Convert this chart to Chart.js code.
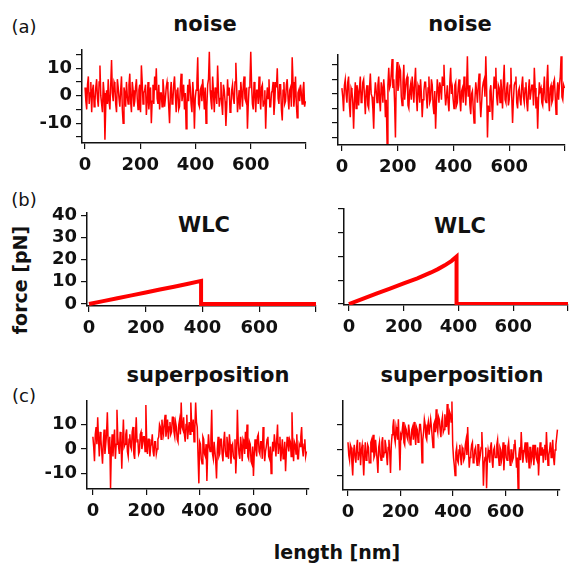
<!DOCTYPE html>
<html>
<head>
<meta charset="utf-8">
<script src="https://cdn.jsdelivr.net/npm/chart.js@4/dist/chart.umd.min.js"></script>
<style>
  html, body { margin: 0; padding: 0; background: #fff; overflow: hidden; }
  #figure { position: relative; width: 571px; height: 566px; overflow: hidden; font-family: "DejaVu Sans", sans-serif; }
  #figure canvas { position: absolute; }
  .label { position: absolute; transform: translate(-50%, -50%); white-space: nowrap; color: #111; }
  .title { font-weight: bold; font-size: 21px; }
  .tag { font-size: 18px; }
  .axis-title { font-weight: bold; font-size: 19px; }
</style>
</head>
<body>
<div id="figure">
  <div class="label tag" style="left:24px;top:26px">(a)</div>
  <div class="label tag" style="left:24px;top:199px">(b)</div>
  <div class="label tag" style="left:24px;top:395px">(c)</div>
  <div class="label title" style="left:205px;top:24px">noise</div>
  <div class="label title" style="left:460px;top:24px">noise</div>
  <div class="label title" style="left:204px;top:225px">WLC</div>
  <div class="label title" style="left:460px;top:226px">WLC</div>
  <div class="label title" style="left:208px;top:375px">superposition</div>
  <div class="label title" style="left:462px;top:375px">superposition</div>
  <div class="label axis-title" style="left:20px;top:280px;transform:translate(-50%,-50%) rotate(-90deg)">force [pN]</div>
  <div class="label axis-title" style="left:337px;top:552px">length [nm]</div>
</div>
<script>
// Sample positions along the molecule (nm), one row per 60 nm
const lengthNm = [
  0, 3, 6, 9, 12, 15, 18, 21, 24, 27, 30, 33, 36, 39, 42, 45, 48, 51, 54, 57,
  60, 63, 66, 69, 72, 75, 78, 81, 84, 87, 90, 93, 96, 99, 102, 105, 108, 111, 114, 117,
  120, 123, 126, 129, 132, 135, 138, 141, 144, 147, 150, 153, 156, 159, 162, 165, 168, 171, 174, 177,
  180, 183, 186, 189, 192, 195, 198, 201, 204, 207, 210, 213, 216, 219, 222, 225, 228, 231, 234, 237,
  240, 243, 246, 249, 252, 255, 258, 261, 264, 267, 270, 273, 276, 279, 282, 285, 288, 291, 294, 297,
  300, 303, 306, 309, 312, 315, 318, 321, 324, 327, 330, 333, 336, 339, 342, 345, 348, 351, 354, 357,
  360, 363, 366, 369, 372, 375, 378, 381, 384, 387, 390, 393, 396, 399, 402, 405, 408, 411, 414, 417,
  420, 423, 426, 429, 432, 435, 438, 441, 444, 447, 450, 453, 456, 459, 462, 465, 468, 471, 474, 477,
  480, 483, 486, 489, 492, 495, 498, 501, 504, 507, 510, 513, 516, 519, 522, 525, 528, 531, 534, 537,
  540, 543, 546, 549, 552, 555, 558, 561, 564, 567, 570, 573, 576, 579, 582, 585, 588, 591, 594, 597,
  600, 603, 606, 609, 612, 615, 618, 621, 624, 627, 630, 633, 636, 639, 642, 645, 648, 651, 654, 657,
  660, 663, 666, 669, 672, 675, 678, 681, 684, 687, 690, 693, 696, 699, 702, 705, 708, 711, 714, 717,
  720, 723, 726, 729, 732, 735, 738, 741, 744, 747, 750, 753, 756, 759, 762, 765, 768, 771, 774, 777,
  780, 783, 786, 789, 792, 795, 798
];

// (a) noise traces (pN)
const noiseLeft = [
  3, -2, -5, 4, 7, -3, 1, 5, -6, 2, 4, -4, -2, 3, 6, -1, -4, 5, 11, 0,
  -3, -6, 5, 1, -16, -4, 2, -3, 6, -2, -5, 4, 13, 1, -2, 5, 4, -3, -6, 6,
  3, -1, -4, 2, 7, -5, -10, 3, 1, -4, 5, 0, -3, 4, 8, -2, -6, 5, 2, -4,
  -2, 3, 6, -1, -5, 2, 4, -6, 11, 5, -3, 1, 2, 4, -7, -2, 5, -5, -1, 3,
  -10, -2, 4, -3, 7, 2, 10, -1, -3, 4, -5, 1, 1, -4, 6, 2, -4, -1, 3, 5,
  2, -4, -10, 1, 5, -3, -2, 4, 7, 0, -6, 2, 3, -5, -4, 3, 8, -2, 1, 4,
  -5, 1, -12, -3, 4, -2, 6, 3, -3, -6, 5, 0, -12, -1, 2, 5, 14, -3, -4, 2,
  3, -2, 6, 1, -5, 3, -10, -4, 4, 6, 16, 2, -2, -5, 7, 1, -6, 3, 1, -3,
  11, 2, -4, -1, 5, -3, -7, 4, 2, -2, -11, -4, 6, 0, 3, -6, -5, 2, 4, -1,
  -3, 5, 12, 3, -6, -2, 2, -5, 5, 1, -4, 4, 7, -1, -2, 3, -12, -3, 3, 5,
  16, 4, -3, -5, 5, 1, -6, 2, 2, -3, 7, 0, -5, 3, 4, -4, -2, 2, -12, -2,
  3, -1, 6, -4, -4, 1, 2, 5, -7, -2, 5, 3, 10, -1, -3, 4, 4, -5, -9, 2,
  5, -3, -2, 4, 6, -1, -5, 2, 3, -4, 14, 5, -4, 0, 7, -3, -8, 1, 2, -2,
  4, 1, -3, 2, 5, -4, -2
];
const noiseRight = [
  2, -1, -6, 3, 5, 0, -3, 4, 6, -4, -8, 2, 1, -3, -12, -2, 4, -5, 3, 1,
  -4, 2, 6, -3, -2, 4, 5, -1, -7, 1, 3, -4, -5, 2, 7, 0, -1, -5, -12, -1,
  4, 1, -3, 3, 6, -2, -6, 4, 2, -3, 5, 1, -8, -2, -17, 3, 9, 2, 3, 7,
  12, 2, 5, -3, -15, 6, 11, 1, 3, 9, 8, -1, -4, 4, 10, -2, 2, 5, 6, -4,
  -5, 1, 3, -2, 6, 2, -3, 4, 9, -1, -6, 3, 2, -3, 5, 0, -8, -2, 1, 4,
  4, -1, -5, 2, 6, -3, -2, 5, 3, -4, -7, 1, -12, -3, 5, 2, -3, 4, 2, -2,
  6, 3, 10, 1, -4, -1, 3, -3, -6, 4, 9, 0, 2, -2, -5, 3, 4, -4, -3, 2,
  5, -2, -6, 1, 2, -3, 6, 3, -4, 2, 13, -1, 3, -4, -7, 0, 1, -5, -10, -2,
  4, 1, -3, 3, 7, -2, -8, -3, 2, 4, 5, -1, 13, 2, -15, -4, -6, 1, 3, -3,
  -9, 0, 6, 2, 9, -1, -4, 3, 2, -3, 5, 1, -5, 4, 10, -2, -3, 2, 4, -4,
  -2, 3, 9, -1, -10, -2, 3, 4, 6, -3, -5, 1, 2, -2, -4, 3, 6, -1, -3, 2,
  4, -3, -6, 1, 5, -2, -2, 3, 3, -4, 9, 2, -5, -1, -12, -2, 4, 1, 2, -3,
  -4, 1, 6, -2, -3, 4, 10, -1, -6, 2, 3, -3, -2, 4, 5, -1, -7, 0, 4, -2,
  3, 6, 13, -1, -2, 3, 2
];

// (b) worm-like-chain curves
const wlcLeftX = [0, 50, 100, 150, 200, 250, 300, 350, 395, 395, 800];
const wlcLeftY = [0, 1.3, 2.6, 3.9, 5.2, 6.5, 7.8, 9.1, 10.4, 0, 0];
const wlcRightX = [0, 50, 100, 150, 200, 250, 300, 325, 350, 375, 393, 393, 800];
const wlcRightY = [0, 2.2, 4.4, 6.5, 8.7, 10.8, 13.3, 14.7, 16.3, 18.2, 20, 0, 0];

// (c) superposition traces
const superLeft = [
  5, 1, -5, 6, 9, 2, 13, 4, -3, 7, 4, -1, -6, 3, 8, -2, 2, 6, 15, 3,
  -2, 5, -16, 0, 6, -3, 3, 8, -4, 2, 16, 5, 1, -2, 7, 4, -8, 3, 12, 1,
  2, 6, 8, -1, -3, 4, 6, 1, 0, 7, 9, -2, -4, 5, 13, 3, 4, -2, -1, 6,
  7, 0, 2, 5, 5, -1, 18, 3, -2, 4, 4, -3, 1, 2, 6, -1, -3, 3, 3, -2,
  0, 4, 5, 10, 9, 4, 12, 8, 6, 11, 14, 5, 8, 12, 4, 9, 11, 6, 7, 13,
  13, 7, 5, 11, 9, 4, 3, 10, 12, 6, 19, 9, 8, 13, 6, 3, 10, 14, 4, 8,
  11, 6, 19, 10, 7, 12, 3, 8, 19, 11, 9, -3, -14, 3, 2, -4, -6, 5, 4, -2,
  -3, 2, -13, -1, 6, 1, -1, 4, 16, -2, -4, 3, 3, -5, -12, 0, 5, -3, -2, 4,
  4, -2, -5, 3, 7, -1, -3, 5, 1, -4, 6, 2, -6, 1, 2, -3, -4, 4, -10, -2,
  16, 3, -2, -4, 5, 1, -5, 4, 3, -2, 7, 0, 10, -3, -4, 3, 2, -5, -6, 1,
  -11, -2, 4, 0, -3, 5, 6, -1, -2, 3, 3, -4, 9, 2, -5, -1, 1, 4, 5, -3,
  -4, 1, -10, -3, 3, -1, 6, 2, -3, 4, 10, -2, 2, 5, -5, -1, 4, -4, -2, 3,
  -9, -1, 5, 2, -1, 4, 3, -3, 15, 1, -5, 3, 2, -2, 6, -4, -4, 2, 1, 5,
  9, 0, -3, 2, 4, -3, -1
];
const superRight = [
  3, -2, -4, 2, 1, -5, -10, -1, 2, -3, -5, 1, 4, -4, -1, 3, -6, 0, 2, -3,
  -10, -2, 3, -4, -3, 2, 1, -5, -5, 3, 4, -1, 6, -3, -2, 4, 0, -4, -9, 1,
  3, -2, -4, 3, 5, -3, -1, 4, 2, -2, -6, 1, 4, -1, -9, 2, 6, 9, 12, 5,
  3, 9, 7, 4, 12, 2, -8, 6, 5, 8, 11, 3, 2, 9, 8, 5, 4, 10, 7, 2,
  3, 8, 9, 4, 11, 6, 2, 9, 8, 3, 5, 10, 10, 6, -5, 4, 7, 12, 10, 5,
  4, 9, 11, 6, 6, 12, 9, 5, 1, 10, 11, 7, 16, 9, 7, 13, 12, 8, 5, 11,
  13, 7, 8, 14, 11, 9, 18, 10, 6, 15, 14, 11, 19, 2, -3, -6, -10, -1, 1, -4,
  -5, 0, 2, -3, -6, 1, 0, -4, -3, 2, 4, -2, 9, 0, -7, -3, -1, 2, 3, -5,
  -4, 0, 1, -3, -6, 2, 2, -4, -2, 1, 7, -1, -14, -5, -3, 1, -15, -4, 0, -2,
  -5, 1, 3, -4, -7, 0, 1, -3, -3, 2, 4, -2, -6, 1, 0, -4, -2, 3, -8, -1,
  2, -3, -4, 1, 3, -2, -6, 0, 0, -4, -3, 2, 4, -1, -7, -3, -15, -2, 1, -4,
  7, 0, -5, -2, 0, 3, -3, -5, 3, -1, -7, 1, 1, -4, -2, 2, -6, -1, 2, -3,
  -4, 1, -10, -3, 3, -2, -2, 1, -5, 0, 2, -4, 7, 0, -6, -2, 0, 3, -3, -1,
  4, -3, -6, 0, 2, 5, 8
];

// Tick values and their labels
const xTicks = [0, 200, 400, 600, 800];
const xTickLabels = ['0', '200', '400', '600', ''];
const noiseTicks = [-15, -10, -5, 0, 5, 10, 15];
const noiseTickLabels = ['', '-10', '', '0', '', '10', ''];
const noiseRightTicks = [-15, -10, -5, 0, 5, 10];
const forceTicks = [0, 10, 20, 30, 40];
const forceTickLabels = ['0', '10', '20', '30', '40'];
const superTicks = [-10, 0, 10];
const superTickLabels = ['-10', '0', '10'];

Chart.defaults.font.family = '"DejaVu Sans", sans-serif';

// Build one small panel whose plotting area sits at the given page box
function addPanel(area, xRange, yRange, yTicks, yLabels, xs, ys, lineWidth) {
  const padTop = 16, padRight = 4, yAxisWidth = 60, xAxisHeight = 40;
  const canvas = document.createElement('canvas');
  canvas.width = area.right - area.left + yAxisWidth + padRight;
  canvas.height = area.bottom - area.top + padTop + xAxisHeight;
  canvas.style.left = (area.left - yAxisWidth) + 'px';
  canvas.style.top = (area.top - padTop) + 'px';
  document.getElementById('figure').appendChild(canvas);

  const tickFont = { size: 18, weight: 'bold' };
  const axisGrid = { display: true, drawOnChartArea: false, drawTicks: true, tickLength: 6, color: '#111', lineWidth: 1.2 };
  const axisBorder = { display: true, color: '#111', width: 1.5 };

  new Chart(canvas, {
    type: 'line',
    data: {
      datasets: [{
        data: xs.map((x, i) => ({ x: x, y: ys[i] })),
        borderColor: '#ff0000',
        borderWidth: lineWidth,
        pointRadius: 0,
        fill: false,
        tension: 0
      }]
    },
    options: {
      responsive: false,
      animation: false,
      events: [],
      layout: { padding: { top: padTop, right: padRight, left: 0, bottom: 0 } },
      plugins: { legend: { display: false }, tooltip: { enabled: false } },
      scales: {
        x: {
          type: 'linear',
          min: xRange[0],
          max: xRange[1],
          afterBuildTicks: s => { s.ticks = xTicks.map(v => ({ value: v })); },
          afterFit: s => { s.height = xAxisHeight; },
          ticks: { callback: (v, i) => xTickLabels[i], font: tickFont, color: '#111', padding: 6, maxRotation: 0, autoSkip: false },
          grid: axisGrid,
          border: axisBorder
        },
        y: {
          min: yRange[0],
          max: yRange[1],
          afterBuildTicks: s => { s.ticks = yTicks.map(v => ({ value: v })); },
          afterFit: s => { s.width = yAxisWidth; },
          ticks: { callback: (v, i) => (yLabels ? yLabels[i] : ''), font: tickFont, color: '#111', padding: 4, autoSkip: false },
          grid: axisGrid,
          border: axisBorder
        }
      }
    }
  });
}

// (a) noise
addPanel({ left: 82, top: 50, right: 308, bottom: 143 }, [-11, 800], [-17.2, 16.6], noiseTicks, noiseTickLabels, lengthNm, noiseLeft, 1.5);
addPanel({ left: 338, top: 55, right: 567, bottom: 145 }, [-14, 800], [-17.6, 13.4], noiseRightTicks, null, lengthNm, noiseRight, 1.5);

// (b) WLC
addPanel({ left: 87, top: 213, right: 318, bottom: 306 }, [-7, 800], [-0.9, 41], forceTicks, forceTickLabels, wlcLeftX, wlcLeftY, 4);
addPanel({ left: 344, top: 209, right: 570, bottom: 305 }, [-18, 800], [-0.4, 40], forceTicks, null, wlcRightX, wlcRightY, 4);

// (c) superposition
addPanel({ left: 87, top: 401, right: 309, bottom: 489 }, [-22, 805], [-16.3, 19.6], superTicks, superTickLabels, lengthNm, superLeft, 1.5);
addPanel({ left: 343, top: 401, right: 560, bottom: 490 }, [-19, 805], [-15.7, 19.2], superTicks, null, lengthNm, superRight, 1.5);
</script>
</body>
</html>
